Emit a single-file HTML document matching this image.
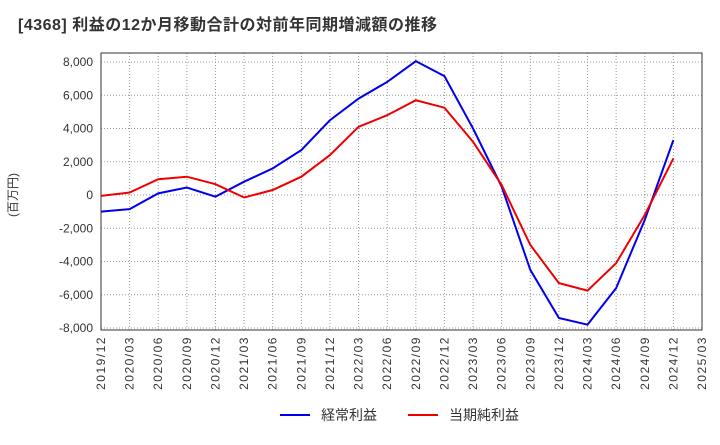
<!DOCTYPE html>
<html><head><meta charset="utf-8"><style>
body{margin:0;background:#fff;width:720px;height:440px;overflow:hidden}
text{font-family:"Liberation Sans","Noto Sans CJK JP",sans-serif}
</style></head><body>
<svg id="c" width="720" height="440"></svg>
<script>
const categories=["2019/12","2020/03","2020/06","2020/09","2020/12","2021/03","2021/06","2021/09","2021/12","2022/03","2022/06","2022/09","2022/12","2023/03","2023/06","2023/09","2023/12","2024/03","2024/06","2024/09","2024/12","2025/03"];
const ordinaryProfit=[-1000,-850,100,450,-100,800,1600,2700,4500,5800,6800,8050,7150,4000,500,-4500,-7400,-7800,-5600,-1500,3300];
const netProfit=[-50,150,950,1100,650,-150,300,1100,2400,4100,4800,5700,5250,3200,600,-3000,-5300,-5750,-4100,-1200,2200];
const yTicks=[-8000,-6000,-4000,-2000,0,2000,4000,6000,8000];
const NS="http://www.w3.org/2000/svg",svg=document.getElementById('c');
const L=101,R=702,T=53,B=330;
const x=i=>L+(R-L)*i/(categories.length-1);
const y=v=>195-v*(133/8000);
function mk(t,a,p){const e=document.createElementNS(NS,t);for(const k in a)e.setAttribute(k,a[k]);(p||svg).appendChild(e);return e;}
const title=mk('text',{x:18,y:30,'font-size':16,'font-weight':'bold',fill:'#333','letter-spacing':'0.5'});

title.textContent='[4368]  利益の12か月移動合計の対前年同期増減額の推移';
const g=mk('g',{});
categories.forEach((c,i)=>{mk('line',{x1:x(i),x2:x(i),y1:T,y2:B,stroke:'#999','stroke-dasharray':'1,2','stroke-width':1},g);
const t=mk('text',{transform:`translate(${x(i)+4},${B+6}) rotate(-90)`,'text-anchor':'end','font-size':12,'letter-spacing':'1.5',fill:'#333'});
t.textContent=c;});
yTicks.forEach(v=>{mk('line',{x1:L,x2:R,y1:y(v),y2:y(v),stroke:'#999','stroke-dasharray':'1,2','stroke-width':1},g);
const t=mk('text',{x:L-8,y:y(v)+4,'text-anchor':'end','font-size':12,fill:'#333'});
t.textContent=v.toLocaleString('en-US');});
const f=mk('rect',{x:L,y:T,width:R-L,height:B-T,fill:'none',stroke:'#333'});

const yt=mk('text',{transform:'translate(17,195) rotate(-90)','text-anchor':'middle','font-size':12,fill:'#333'});
yt.textContent='(百万円)';
function line(d,col,name){const p=mk('polyline',{points:d.map((v,i)=>x(i)+','+y(v)).join(' '),fill:'none',stroke:col,'stroke-width':2});
}
line(ordinaryProfit,'#0000ee','ordinary-profit-line');
line(netProfit,'#ee0000','net-profit-line');
[[280,'#0000ee','経常利益','legend-ordinary-profit'],[408,'#ee0000','当期純利益','legend-net-profit']].forEach(([lx,col,txt,n])=>{
const lg=mk('g',{});
mk('line',{x1:lx,x2:lx+30,y1:415,y2:415,stroke:col,'stroke-width':2},lg);
const t=mk('text',{x:lx+41,y:420,'font-size':14,fill:'#333'},lg);t.textContent=txt;});
</script></body></html>
